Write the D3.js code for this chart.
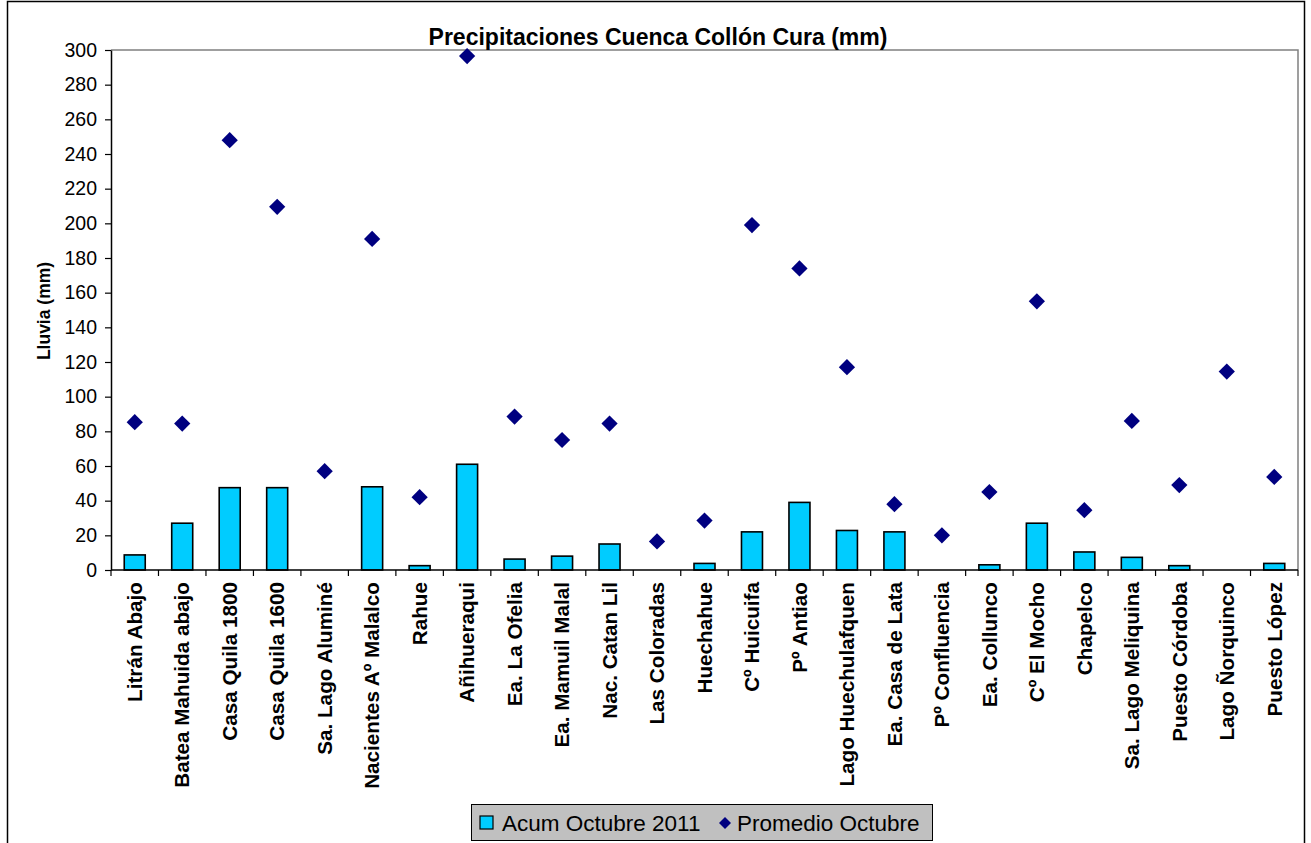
<!DOCTYPE html>
<html>
<head>
<meta charset="utf-8">
<script src="https://cdn.jsdelivr.net/npm/d3@7"></script>
<style>
  html, body { margin: 0; padding: 0; background: #fff; }
  svg { display: block; font-family: Arial, "Liberation Sans", sans-serif; }
</style>
</head>
<body>
<svg id="chart" width="1311" height="843"></svg>
<script>
// Stations of the Collón Cura basin
const estaciones = [
  "Litrán Abajo", "Batea Mahuida abajo", "Casa Quila 1800", "Casa Quila 1600",
  "Sa. Lago Aluminé", "Nacientes Aº Malalco", "Rahue", "Añihueraqui",
  "Ea. La Ofelia", "Ea. Mamuil Malal", "Nac. Catan Lil", "Las Coloradas",
  "Huechahue", "Cº Huicuifa", "Pº Antiao", "Lago Huechulafquen",
  "Ea. Casa de Lata", "Pº Confluencia", "Ea. Collunco", "Cº El Mocho",
  "Chapelco", "Sa. Lago Meliquina", "Puesto Córdoba", "Lago Ñorquinco", "Puesto López"
];

// Accumulated rainfall, October 2011 (mm)
const acumOctubre2011 = [
  8.7, 27, 47.5, 47.5, 0, 48, 2.5, 61,
  6.3, 8, 15, 0, 3.8, 22, 39, 22.8,
  22, 0, 3, 27, 10.4, 7.3, 2.5, 0, 3.8
];

// October average (mm)
const promedioOctubre = [
  85.3, 84.5, 248, 209.5, 57, 191, 42, 296.5,
  88.5, 75, 84.5, 16.5, 28.5, 199, 174, 117,
  38, 20, 45, 155, 34.5, 86, 49, 114.5, 53.7
];

const yTicks = [0, 20, 40, 60, 80, 100, 120, 140, 160, 180, 200, 220, 240, 260, 280, 300];

const svg = d3.select("#chart");
const plot = { left: 111, top: 50, right: 1298, bottom: 570 };

// Outer chart frame
svg.append("rect")
  .attr("x", 7.5).attr("y", 1.5)
  .attr("width", 1297).attr("height", 860)
  .attr("fill", "#fff").attr("stroke", "#000").attr("stroke-width", 1.5);

const x = d3.scaleBand()
  .domain(estaciones)
  .range([plot.left, plot.right])
  .paddingInner(0).paddingOuter(0);

const y = d3.scaleLinear()
  .domain([0, 300])
  .range([plot.bottom, plot.top]);

// Plot area border (top and right in gray)
svg.append("path")
  .attr("d", `M${plot.left},${plot.top}H${plot.right}V${plot.bottom}`)
  .attr("fill", "none").attr("stroke", "#808080").attr("stroke-width", 1.5);

// Bars
const barW = 21;
svg.append("g").selectAll("rect")
  .data(estaciones.map((e, i) => ({ e, v: acumOctubre2011[i] })).filter(d => d.v > 0))
  .join("rect")
  .attr("x", d => x(d.e) + x.bandwidth() / 2 - barW / 2)
  .attr("y", d => y(d.v))
  .attr("width", barW)
  .attr("height", d => y(0) - y(d.v))
  .attr("fill", "#00CCFF")
  .attr("stroke", "#000")
  .attr("stroke-width", 1.6);

// Diamonds for the monthly average
const diamond = d3.symbol().type(d3.symbolSquare).size(132);
svg.append("g").selectAll("path")
  .data(estaciones.map((e, i) => ({ e, v: promedioOctubre[i] })))
  .join("path")
  .attr("d", diamond)
  .attr("transform", d => `translate(${x(d.e) + x.bandwidth() / 2},${y(d.v)}) rotate(45)`)
  .attr("fill", "#000080");

// Y axis
const yAxis = svg.append("g")
  .attr("transform", `translate(${plot.left},0)`)
  .call(d3.axisLeft(y).tickValues(yTicks).tickSize(6).tickPadding(8).tickSizeOuter(0));
yAxis.select(".domain").attr("stroke", "#000").attr("stroke-width", 1.5);
yAxis.selectAll(".tick line").attr("stroke", "#000").attr("stroke-width", 1.2);
yAxis.selectAll(".tick text")
  .attr("font-size", 19.5).attr("fill", "#000")
  .attr("font-family", "Arial, 'Liberation Sans', sans-serif");

// X axis: ticks at category boundaries
const xAxisG = svg.append("g");
xAxisG.append("line")
  .attr("x1", plot.left).attr("x2", plot.right)
  .attr("y1", plot.bottom).attr("y2", plot.bottom)
  .attr("stroke", "#000").attr("stroke-width", 1.5);
const bounds = estaciones.map(e => x(e)).concat([x(estaciones[estaciones.length - 1]) + x.bandwidth()]);
xAxisG.selectAll("line.tk")
  .data(bounds)
  .join("line")
  .attr("class", "tk")
  .attr("x1", d => d).attr("x2", d => d)
  .attr("y1", plot.bottom).attr("y2", plot.bottom + 6)
  .attr("stroke", "#000").attr("stroke-width", 1.2);

// Category labels, rotated
xAxisG.selectAll("text")
  .data(estaciones)
  .join("text")
  .attr("transform", d => `translate(${x(d) + x.bandwidth() / 2},${plot.bottom + 12}) rotate(-90)`)
  .attr("text-anchor", "end")
  .attr("dy", "0.35em")
  .attr("font-size", 20.7)
  .attr("font-weight", "bold")
  .attr("fill", "#000")
  .text(d => d);

// Title
svg.append("text")
  .attr("x", 658).attr("y", 45)
  .attr("text-anchor", "middle")
  .attr("font-size", 23).attr("font-weight", "bold")
  .text("Precipitaciones Cuenca Collón Cura (mm)");

// Y axis title
svg.append("text")
  .attr("transform", "translate(44,311) rotate(-90)")
  .attr("text-anchor", "middle")
  .attr("dy", "0.35em")
  .attr("font-size", 17.5).attr("font-weight", "bold")
  .text("Lluvia (mm)");

// Legend
const lg = svg.append("g").attr("transform", "translate(471,804)");
lg.append("rect")
  .attr("x", 0.5).attr("y", 0.5).attr("width", 461).attr("height", 36)
  .attr("fill", "#C0C0C0").attr("stroke", "#000").attr("stroke-width", 1);
lg.append("rect")
  .attr("x", 9).attr("y", 12).attr("width", 13).attr("height", 13)
  .attr("fill", "#00CCFF").attr("stroke", "#000").attr("stroke-width", 1.2);
lg.append("text")
  .attr("x", 31).attr("y", 19).attr("dy", "0.35em")
  .attr("font-size", 22.5)
  .text("Acum Octubre 2011");
lg.append("path")
  .attr("d", d3.symbol().type(d3.symbolSquare).size(72)())
  .attr("transform", "translate(254,19) rotate(45)")
  .attr("fill", "#000080");
lg.append("text")
  .attr("x", 266).attr("y", 19).attr("dy", "0.35em")
  .attr("font-size", 22.5)
  .text("Promedio Octubre");
</script>
</body>
</html>
